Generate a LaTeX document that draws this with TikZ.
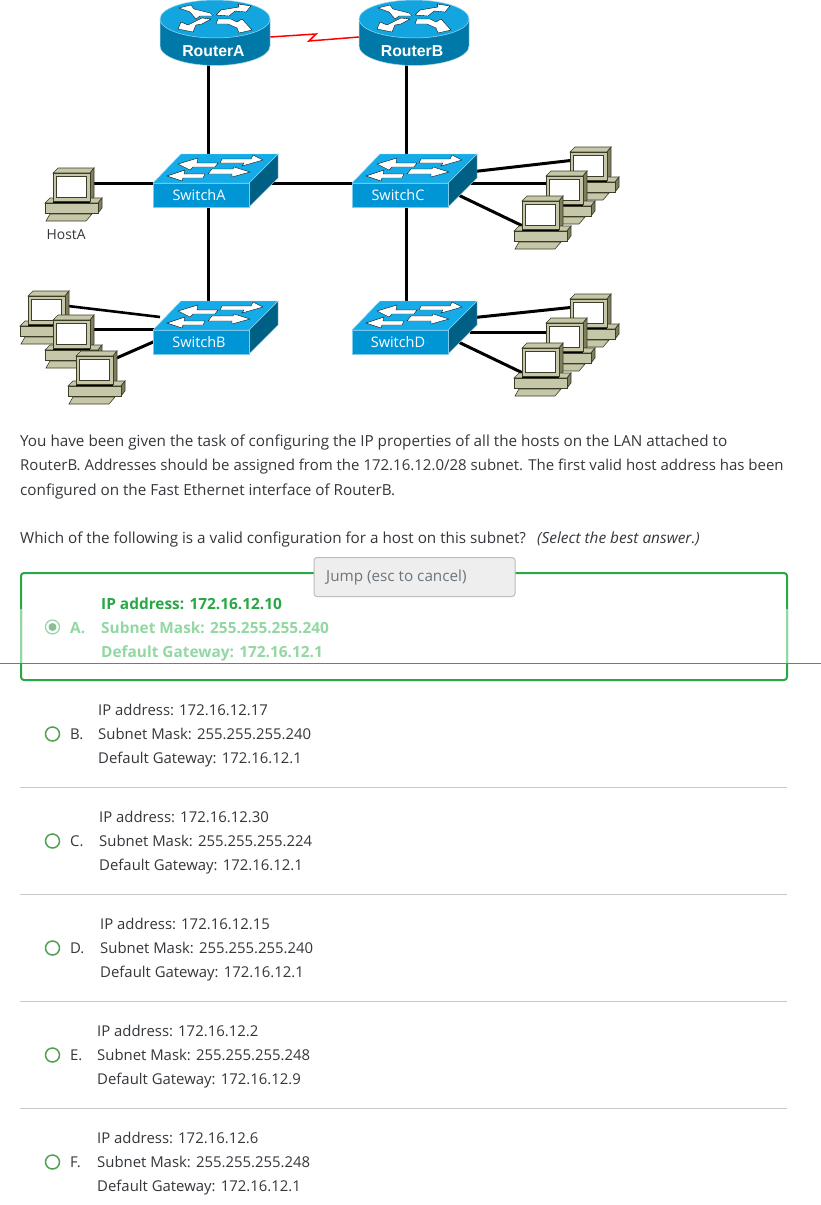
\documentclass[tikz,border=0pt]{standalone}
\usepackage{fontspec}
\setmainfont{Open Sans}
\newfontfamily\labelfont{Liberation Sans}
\definecolor{rtop}{HTML}{12A5E0}
\definecolor{rbody}{HTML}{0079A8}
\definecolor{sfront}{HTML}{0096D6}
\definecolor{stop}{HTML}{14ABE8}
\definecolor{sside}{HTML}{005F85}
\definecolor{pcmid}{HTML}{C6C6A8}
\definecolor{pcdark}{HTML}{7F7F60}
\definecolor{pcedge}{HTML}{3C3C28}
\definecolor{txt}{HTML}{33373B}
\definecolor{grn}{HTML}{28A745}
\definecolor{lgrn}{HTML}{93D8A3}
\definecolor{rad}{HTML}{4FA04F}
\definecolor{sep}{HTML}{C8C8C8}
\definecolor{jumpbg}{HTML}{EEEEEE}
\definecolor{jumptx}{HTML}{6C757D}
\definecolor{jumpln}{HTML}{BDBDBD}
\definecolor{cut}{HTML}{4A9A4A}
\tikzset{
  x=1pt,y=-1pt,
  link/.style={line width=3pt,black},
  serial/.style={line width=1.5pt,red},
  para/.style={anchor=base west,inner sep=0pt,font=\fontsize{14.9}{17}\selectfont,text=txt},
  qline/.style={para,font=\fontsize{15.25}{17}\selectfont},
  boldline/.style={para,font=\bfseries\fontsize{15.4}{17}\selectfont},
  devlabel/.style={anchor=center,inner sep=0pt,font=\fontsize{14.5}{16}\selectfont,text=white},
  routerlabel/.style={anchor=center,inner sep=0pt,font=\labelfont\bfseries\fontsize{15.8}{18}\selectfont,text=white},
  sep line/.style={line width=1pt,sep},
  radio/.style={circle,draw=rad,line width=1.5pt,minimum size=14pt,inner sep=0pt,fill=white},
  whitearrow/.style={fill=white,draw=black,line width=.35pt},
  pc/.pic={
    \fill[pcmid,draw=pcedge,line width=.6pt] (0,0)--(5,-5)--(41,-5)--(37,0)--cycle;
    \fill[pcdark,draw=pcedge,line width=.6pt] (37,0)--(41,-5)--(41,24)--(37,28)--cycle;
    \fill[pcmid,draw=pcedge,line width=.6pt] (-8,30)--(-3,25)--(49,25)--(45,30)--cycle;
    \fill[pcdark,draw=pcedge,line width=.6pt] (45,30)--(49,25)--(49,35)--(45,40)--cycle;
    \fill[pcmid,draw=pcedge,line width=.6pt] (-8,30) rectangle (45,40);
    \fill[pcmid,draw=pcedge,line width=.6pt] (-3,41)--(39,41)--(33,48)--(-7,48)--cycle;
    \fill[black] (0,28) rectangle (37,30);
    \fill[pcmid,draw=pcedge,line width=.6pt] (0,0) rectangle (37,28);
    \fill[white,draw=pcedge,line width=.9pt] (3.2,3.2) rectangle (33.8,24.8);
  },
  routerpic/.pic={
    \fill[rbody] (-55,0) -- (-55,27) arc[start angle=180,end angle=0,x radius=55,y radius=19.5] -- (55,0) -- cycle;
    \draw[white!70!rbody,line width=.5pt] (-55,0) -- (-55,27) arc[start angle=180,end angle=0,x radius=55,y radius=19.5] -- (55,0);
    \fill[rtop,draw=white!60!rtop,line width=.5pt] (0,0) ellipse[x radius=55,y radius=19];
    \fill[whitearrow] (-36,-11)--(-24,-14)--(-21,-10)--(-5,-6)--(-2,-3)--(-15,-3)--(-19,0)--(-25,-7)--cycle;
    \fill[whitearrow] (36,-13)--(23,-15)--(24,-12)--(6,-9)--(1,-4)--(14,-3)--(20,-8)--(31,-7)--cycle;
    \fill[whitearrow] (-37,10)--(-34,3)--(-27,6)--(-13,-1)--(-4,0)--(-13,5)--(-19,6)--(-22,13)--cycle;
    \fill[whitearrow] (37,11)--(24,14)--(22,9)--(13,5)--(1,5)--(3,0)--(16,0)--(22,3)--(27,0)--cycle;
  },
  switchpic/.pic={
    \fill[sside,draw=white!60!sside,line width=.4pt] (96,0)--(125,-29)--(125,-5)--(96,24)--cycle;
    \fill[sfront,draw=white!50!sfront,line width=.4pt] (0,0) rectangle (96,24);
    \fill[stop,draw=white!50!stop,line width=.4pt] (0,0)--(28,-29)--(125,-29)--(96,0)--cycle;
    \fill[whitearrow] (25,-19)--(45,-25)--(44,-20)--(65,-20)--(62,-16)--(40,-16)--(37,-13)--cycle;
    \fill[whitearrow] (69,-24)--(98,-24)--(100,-28)--(110,-23)--(89,-17)--(91,-20)--(67,-20)--cycle;
    \fill[whitearrow] (14,-7)--(32,-13)--(31,-9)--(52,-9)--(50,-5)--(30,-5)--(29,-2)--cycle;
    \fill[whitearrow] (59,-14)--(80,-14)--(81,-16)--(97,-11)--(79,-6)--(79,-9)--(55,-9)--cycle;
  },
}
\newcommand{\optionblock}[8]{%
  \node[para] (#1ip) at (#3,#2-18.3) {#5};
  \node[para] (#1mask) at (#3,#2+5.7) {#6};
  \node[para] (#1gw) at (#3,#2+29.7) {#7};
  \node[radio] (#1radio) at (52.5,#2) {};
  \node[para] (#1letter) at (#8,#2+5.7) {#4};
}
\begin{document}
\begin{tikzpicture}
\useasboundingbox (0,0) rectangle (821,1205);
\fill[white] (0,0) rectangle (821,1205);
\coordinate (ra) at (208,60);   \coordinate (rb) at (406,60);
\coordinate (rae) at (270,37);  \coordinate (rbw) at (359,37);
\coordinate (sz1) at (316,34);  \coordinate (sz2) at (309,41);
\coordinate (san) at (208,160); \coordinate (sas) at (208,200);
\coordinate (sae) at (270,183); \coordinate (saw) at (160,183);
\coordinate (sbn) at (208,305);
\coordinate (scn) at (406,160); \coordinate (scs) at (406,200);
\coordinate (scw) at (360,183); \coordinate (sdn) at (406,305);
\coordinate (hosta) at (90,183);
\coordinate (pcb1) at (68,306); \coordinate (pcb2) at (90,329); \coordinate (pcb3) at (112,360);
\coordinate (sb1) at (160,317); \coordinate (sb2) at (160,329); \coordinate (sb3) at (160,339);
\coordinate (sc1) at (470,172); \coordinate (sc2) at (470,183); \coordinate (sc3) at (450,191);
\coordinate (pcc1) at (575,160); \coordinate (pcc2) at (550,183); \coordinate (pcc3) at (527,228);
\coordinate (sd1) at (470,318); \coordinate (sd2) at (470,332); \coordinate (sd3) at (450,338);
\coordinate (pcd1) at (575,307); \coordinate (pcd2) at (550,332); \coordinate (pcd3) at (527,375);
\draw[link] (ra) -- (san);
\draw[link] (rb) -- (scn);
\draw[link] (sas) -- (sbn);
\draw[link] (scs) -- (sdn);
\draw[link] (sae) -- (scw);
\draw[link] (hosta) -- (saw);
\draw[link,line width=2.6pt] (pcb1) -- (sb1);
\draw[link] (pcb2) -- (sb2);
\draw[link] (pcb3) -- (sb3);
\draw[link] (sc1) -- (pcc1);
\draw[link] (sc2) -- (pcc2);
\draw[link] (sc3) -- (pcc3);
\draw[link] (sd1) -- (pcd1);
\draw[link] (sd2) -- (pcd2);
\draw[link] (sd3) -- (pcd3);
\draw[serial] (rae) -- (sz1) -- (sz2) -- (rbw);
\pic at (215,19) {routerpic};
\pic at (414,19) {routerpic};
\pic at (153,183) {switchpic};
\pic at (352,183) {switchpic};
\pic at (153,330) {switchpic};
\pic at (352,330) {switchpic};
\pic at (53,173) {pc};
\pic at (28,296) {pc};
\pic at (53,320) {pc};
\pic at (76,356) {pc};
\pic at (570,152) {pc};
\pic at (546,176) {pc};
\pic at (522,201) {pc};
\pic at (570,299) {pc};
\pic at (546,323) {pc};
\pic at (522,348) {pc};
\node[routerlabel] (lra) at (213.5,51) {RouterA};
\node[routerlabel] (lrb) at (412,51) {RouterB};
\node[devlabel] (lsa) at (199,195) {SwitchA};
\node[devlabel] (lsc) at (398,195) {SwitchC};
\node[devlabel] (lsb) at (199,342) {SwitchB};
\node[devlabel] (lsd) at (398,342) {SwitchD};
\node[para,font=\fontsize{13.9}{17}\selectfont] (lha) at (46.5,239) {HostA};
\node[qline] (q1) at (20,446.7) {You have been given the task of configuring the IP properties of all the hosts on the LAN attached to};
\node[qline,font=\fontsize{15}{17}\selectfont] (q2) at (20,470.7) {RouterB. Addresses should be assigned from the 172.16.12.0/28 subnet. The first valid host address has been};
\node[qline] (q3) at (20,495) {configured on the Fast Ethernet interface of RouterB.};
\node[qline] (q4) at (20,543) {Which of the following is a valid configuration for a host on this subnet?};
\node[para,font=\itshape\fontsize{15.4}{17}\selectfont] (q5) at (537,543) {(Select the best answer.)};
\draw[grn,line width=2pt,rounded corners=3pt] (21,573) rectangle (787,680);
\draw[lgrn,line width=2pt] (21,609) -- (21,663);
\draw[lgrn,line width=2pt] (787,609) -- (787,663);
\node[boldline,text=grn] (aip) at (101,609.5) {IP address: 172.16.12.10};
\node[boldline,text=lgrn] (amask) at (101,633.5) {Subnet Mask: 255.255.255.240};
\node[boldline,text=lgrn] (agw) at (101,657.5) {Default Gateway: 172.16.12.1};
\node[boldline,text=lgrn] (aletter) at (70,633.5) {A.};
\node[circle,draw=lgrn,line width=1.2pt,minimum size=14pt,inner sep=0pt] (aradio) at (52.5,627) {};
\node[circle,fill=lgrn!85!black!90,minimum size=8pt,inner sep=0pt] (adot) at (aradio) {};
\draw[cut,line width=1pt] (0,663.5) -- (821,663.5);
\node[draw=jumpln,fill=jumpbg,line width=1pt,rounded corners=3pt,anchor=north west,minimum width=201pt,minimum height=39pt,inner sep=0pt] (jump) at (313.5,557) {};
\node[qline,text=jumptx] (jumpt) at (326,581) {Jump (esc to cancel)};
\optionblock{b}{734}{98}{B.}{IP address: 172.16.12.17}{Subnet Mask: 255.255.255.240}{Default Gateway: 172.16.12.1}{70}
\draw[sep line] (20,787.5) -- (787,787.5);
\optionblock{c}{841}{99}{C.}{IP address: 172.16.12.30}{Subnet Mask: 255.255.255.224}{Default Gateway: 172.16.12.1}{70}
\draw[sep line] (20,894.5) -- (787,894.5);
\optionblock{d}{948}{100}{D.}{IP address: 172.16.12.15}{Subnet Mask: 255.255.255.240}{Default Gateway: 172.16.12.1}{70}
\draw[sep line] (20,1001.5) -- (787,1001.5);
\optionblock{e}{1055}{97}{E.}{IP address: 172.16.12.2}{Subnet Mask: 255.255.255.248}{Default Gateway: 172.16.12.9}{70}
\draw[sep line] (20,1108.5) -- (787,1108.5);
\optionblock{f}{1162}{97}{F.}{IP address: 172.16.12.6}{Subnet Mask: 255.255.255.248}{Default Gateway: 172.16.12.1}{70}
\end{tikzpicture}
\end{document}
